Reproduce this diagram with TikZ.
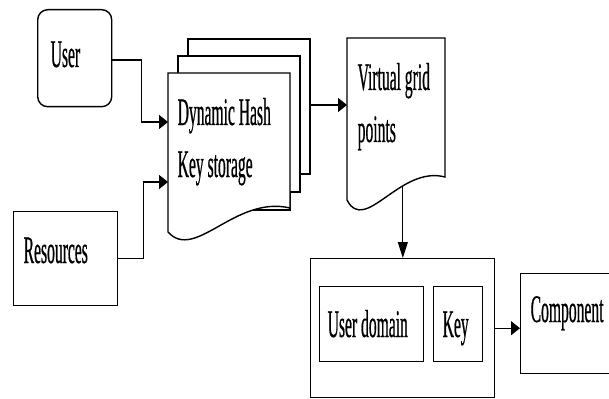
\documentclass[tikz,border=0pt]{standalone}
\usepackage{fontspec}
\setmainfont{Liberation Serif}[FakeStretch=0.4,FakeBold=0.5]
\usetikzlibrary{arrows.meta}
\begin{document}
\begin{tikzpicture}[x=1pt,y=-1pt,
  line width=1.4pt, line join=miter,
  box/.style={draw, fill=white, minimum width=#1, inner sep=0pt, anchor=north west},
  lbl/.style={anchor=base west, inner sep=0pt, font=\fontsize{39}{39}\selectfont},
  arr/.style={-{Triangle[length=9pt,width=14pt]}},
  darr/.style={line width=1pt, -{Triangle[length=16pt,width=10pt]}},
  docshape/.style={draw, fill=white}]
\useasboundingbox (0,0) rectangle (609,398);

% User
\node[box=74pt, minimum height=97pt, rounded corners=10pt] (user) at (37,9) {};
\node[lbl] (tuser) at (50,67) {User};

% Resources
\node[box=104pt, minimum height=94pt] (res) at (13,211) {};
\node[lbl] (tres) at (23,263) {Resources};

% Multi-document (back to front)
\draw[docshape] (188,39) -- (310,39) -- (310,174) -- (298,174) -- (298,192) -- (290,192) -- (290,210) -- (188,210) -- cycle;
\draw[docshape] (178,56) -- (300,56) -- (300,192) -- (290,192) -- (290,210) -- (178,210) -- cycle;
\draw[docshape] (168,73) -- (290,73) -- (290,208) .. controls (235,195) and (195,262) .. (168,232) -- cycle;
\node[lbl] (tdh1) at (177,125) {Dynamic Hash};
\node[lbl] (tdh2) at (177,177) {Key storage};
\coordinate (docin1) at (168,122);
\coordinate (docin2) at (168,182);
\coordinate (docout) at (310,105);

% Virtual grid points
\draw[docshape] (347,38) -- (445,38) -- (445,177) .. controls (400,165) and (365,235) .. (347,200) -- cycle;
\path (347,200) .. controls (365,235) and (400,165) .. coordinate[pos=0.66] (vgb) (445,177);
\coordinate (vgin) at (347,105);
\node[lbl] (tvg1) at (357,90) {Virtual grid};
\node[lbl] (tvg2) at (357,142) {points};

% Outer box with inner boxes
\node[box=184pt, minimum height=139pt] (outer) at (310,258) {};
\node[box=104pt, minimum height=75pt] (udom) at (319,286) {};
\node[lbl] (tudom) at (327,337) {User domain};
\node[box=49pt, minimum height=75pt] (key) at (433,286) {};
\node[lbl] (tkey) at (442,337) {Key};

% Component
\node[box=96pt, minimum height=100pt] (comp) at (520,273) {};
\node[lbl] (tcomp) at (530,322) {Component};

% Connectors
\draw[arr] (user.east) ++(0,2) -- ++(29,0) |- (docin1);
\draw[arr] (res.east) -- ++(25,0) |- (docin2);
\draw[arr] (docout) -- (vgin);
\draw[darr] (vgb) -- (vgb |- outer.north);
\draw[arr] (outer.east) -- (outer.east -| comp.west);
\end{tikzpicture}
\end{document}
